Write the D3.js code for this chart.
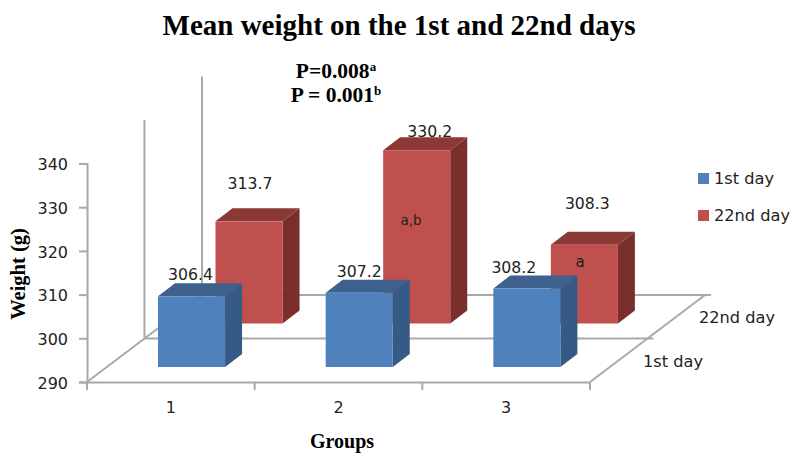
<!DOCTYPE html>
<html>
<head>
<meta charset="utf-8">
<script src="https://cdn.jsdelivr.net/npm/d3@7"></script>
<style>
    html, body { margin: 0; padding: 0; background: #fff; }
    svg { display: block; }
    .tick-label { font-family: "DejaVu Sans", sans-serif; fill: #222; }
    .serif { font-family: "Liberation Serif", serif; font-weight: bold; fill: #000; }
</style>
</head>
<body>
<svg id="chart" width="790" height="453"></svg>
<script>
const groups = ['1', '2', '3'];
const seriesNames = ['1st day', '22nd day'];
const firstDay = [306.4, 307.2, 308.2];
const secondDay = [313.7, 330.2, 308.3];
const yTicks = [290, 300, 310, 320, 330, 340];
const barNotes = ['', 'a,b', 'a'];

// hand placed value labels, they are not centred on the bars in the original
const firstDayNudge = [[-1, -22], [0, -22], [-13, -21]];
const secondDayNudge = [[1, -38], [13, -19], [3, -41]];

const svg = d3.select('#chart');
const lineColor = '#a9a9a9';
const colors = {
    '1st day': { front: '#4f81bd', side: '#355a85', top: '#3e618e' },
    '22nd day': { front: '#c0504d', side: '#7a2f2e', top: '#8a3937' }
};

const floorLeft = 87, floorRight = 590, floorY = 382;
const depthX = 115, depthY = 87;
const barSideX = 17, barSideY = 13;

const xScale = d3.scaleBand().domain(groups).range([floorLeft, floorRight]);
const yScale = d3.scaleLinear().domain([290, 340]).range([floorY, 163.5]);
const barHeight = d3.scaleLinear().domain([290, 340]).range([0, 215.5]);
const depthXScale = d3.scaleBand().domain(seriesNames).range([0, depthX]);
const depthYScale = d3.scaleBand().domain(seriesNames).range([0, depthY]);

const rows = [
    { name: '22nd day', values: secondDay, nudge: secondDayNudge },
    { name: '1st day', values: firstDay, nudge: firstDayNudge }
];

// walls and floor
const frame = svg.append('g')
    .attr('stroke', lineColor).attr('stroke-width', 2).attr('fill', 'none');
const wallTop = yScale(340);
seriesNames.forEach((name, i) => {
    const shiftX = (i + 1) * depthXScale.step();
    const shiftY = (i + 1) * depthYScale.step();
    frame.append('path').attr('d', d3.line()([
        [floorLeft + shiftX, floorY - shiftY],
        [floorLeft + shiftX, wallTop - shiftY]
    ]));
    frame.append('path').attr('d', d3.line()([
        [floorLeft + shiftX, floorY - shiftY],
        [floorRight + shiftX + 6, floorY - shiftY]
    ]));
});
frame.append('path').attr('d', d3.line()([
    [floorLeft, floorY],
    [floorLeft + depthX, floorY - depthY]
]));
frame.append('path').attr('d', d3.line()([
    [floorRight, floorY],
    [floorRight + depthX, floorY - depthY]
]));

// y axis
const yAxis = d3.axisLeft(yScale).tickValues(yTicks).tickSize(8).tickPadding(11);
const yAxisG = svg.append('g')
    .attr('transform', `translate(${floorLeft}, 0)`)
    .call(yAxis);
yAxisG.selectAll('.domain').attr('stroke', lineColor).attr('stroke-width', 2);
yAxisG.selectAll('line').attr('stroke', lineColor).attr('stroke-width', 2);
yAxisG.selectAll('text').attr('class', 'tick-label')
    .attr('y', 1).style('font-size', '16px');

// x axis
const xAxis = d3.axisBottom(xScale).tickSize(0).tickPadding(20);
const xAxisG = svg.append('g')
    .attr('transform', `translate(0, ${floorY})`)
    .call(xAxis);
xAxisG.selectAll('.domain').attr('stroke', lineColor).attr('stroke-width', 2);
xAxisG.selectAll('text').attr('class', 'tick-label').style('font-size', '16px');
xAxisG.selectAll('.edge').data(groups.concat('end')).enter().append('line')
    .attr('x1', d => d === 'end' ? floorRight : xScale(d))
    .attr('x2', d => d === 'end' ? floorRight : xScale(d))
    .attr('y1', 0).attr('y2', 8)
    .attr('stroke', lineColor).attr('stroke-width', 2);

// bars, back row first so the front row covers it
const barOffset = 71, baseLift = 15;
const barWidth = xScale.bandwidth() * 0.4;

rows.forEach(row => {
    const c = colors[row.name];
    const rowG = svg.append('g');
    row.values.forEach((v, i) => {
        const x0 = xScale(groups[i]) + barOffset + depthXScale(row.name);
        const x1 = x0 + barWidth;
        const y0 = floorY - baseLift - depthYScale(row.name);
        const y1 = y0 - barHeight(v);
        const poly = d3.line();
        rowG.append('path').attr('fill', c.side).attr('d', poly([
            [x1, y0], [x1 + barSideX, y0 - barSideY], [x1 + barSideX, y1 - barSideY], [x1, y1]
        ]) + 'Z');
        rowG.append('path').attr('fill', c.top).attr('d', poly([
            [x0, y1], [x0 + barSideX, y1 - barSideY], [x1 + barSideX, y1 - barSideY], [x1, y1]
        ]) + 'Z');
        rowG.append('rect').attr('fill', c.front)
            .attr('x', x0).attr('y', y1)
            .attr('width', barWidth).attr('height', y0 - y1);
    });
});

// value labels go on top of everything
rows.forEach(row => {
    row.values.forEach((v, i) => {
        const x0 = xScale(groups[i]) + barOffset + depthXScale(row.name);
        const y1 = floorY - baseLift - depthYScale(row.name) - barHeight(v);
        svg.append('text')
            .attr('class', 'tick-label')
            .attr('x', x0 + barWidth / 2 + row.nudge[i][0])
            .attr('y', y1 + row.nudge[i][1])
            .attr('dy', '0.36em')
            .attr('text-anchor', 'middle')
            .style('font-size', '15.7px')
            .text(v.toFixed(1));
    });
});

// notes written on the red bars
svg.append('text').attr('class', 'tick-label')
    .attr('x', 411).attr('y', 220).attr('dy', '0.36em')
    .attr('text-anchor', 'middle').style('font-size', '13.5px').text(barNotes[1]);
svg.append('text').attr('class', 'tick-label')
    .attr('x', 580).attr('y', 262).attr('dy', '0.36em')
    .attr('text-anchor', 'middle').style('font-size', '15px').text(barNotes[2]);

// depth axis labels
svg.append('text').attr('class', 'tick-label')
    .attr('x', 699).attr('y', 323).style('font-size', '16.2px').text(seriesNames[1]);
svg.append('text').attr('class', 'tick-label')
    .attr('x', 643).attr('y', 367).style('font-size', '16.2px').text(seriesNames[0]);

// legend
const legend = svg.append('g');
seriesNames.forEach((name, i) => {
    legend.append('rect')
        .attr('x', 698).attr('y', 173 + i * 37)
        .attr('width', 11).attr('height', 11)
        .attr('fill', colors[name].front);
    legend.append('text').attr('class', 'tick-label')
        .attr('x', 714).attr('y', 184 + i * 37)
        .style('font-size', '16.2px').text(name);
});

// titles
svg.append('text').attr('class', 'serif')
    .attr('x', 399).attr('y', 34.5)
    .attr('text-anchor', 'middle').style('font-size', '29px')
    .text('Mean weight on the 1st and 22nd days');

const p1 = svg.append('text').attr('class', 'serif')
    .attr('x', 336).attr('y', 78)
    .attr('text-anchor', 'middle').style('font-size', '21.5px');
p1.append('tspan').text('P=0.008');
p1.append('tspan').attr('dy', -7).style('font-size', '13px').text('a');
const p2 = svg.append('text').attr('class', 'serif')
    .attr('x', 336).attr('y', 102)
    .attr('text-anchor', 'middle').style('font-size', '21.5px');
p2.append('tspan').text('P = 0.001');
p2.append('tspan').attr('dy', -7).style('font-size', '13px').text('b');

svg.append('text').attr('class', 'serif')
    .attr('x', 342).attr('y', 448)
    .attr('text-anchor', 'middle').style('font-size', '20px').text('Groups');
svg.append('text').attr('class', 'serif')
    .attr('transform', 'translate(25, 274) rotate(-90)')
    .attr('text-anchor', 'middle').style('font-size', '20.5px').text('Weight (g)');
</script>
</body>
</html>
